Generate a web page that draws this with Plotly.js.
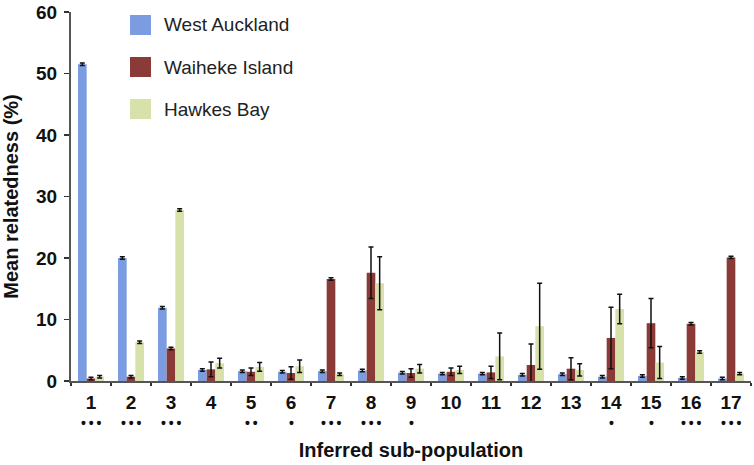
<!DOCTYPE html>
<html>
<head>
<meta charset="utf-8">
<script src="https://cdn.plot.ly/plotly-3.0.1.min.js"></script>
<style>html,body{margin:0;padding:0;background:#fff;}#chart{width:754px;height:465px;}</style>
</head>
<body>
<div id="chart"></div>
<script>
const categories = ["1","2","3","4","5","6","7","8","9","10","11","12","13","14","15","16","17"];
const significance = ["•••","•••","•••","","••","•","•••","•••","•","","","","","•","•","•••","•••"];
const seriesNames = ["West Auckland","Waiheke Island","Hawkes Bay"];
const seriesColors = ["#7b9ce0","#8b3b37","#d7e1aa"];
const westAuckland = [51.5,20.0,11.9,1.8,1.6,1.5,1.6,1.7,1.35,1.2,1.2,1.0,1.1,0.7,0.8,0.5,0.4];
const westAucklandErr = [0.2,0.2,0.2,0.2,0.2,0.2,0.2,0.2,0.2,0.2,0.2,0.2,0.2,0.2,0.2,0.2,0.2];
const waihekeIsland = [0.4,0.7,5.3,1.9,1.5,1.3,16.6,17.6,1.3,1.5,1.4,2.6,2.0,7.0,9.4,9.3,20.1];
const waihekeIslandErr = [0.2,0.2,0.2,1.2,0.6,1.0,0.2,4.2,0.7,0.6,1.0,3.4,1.8,5.0,4.0,0.2,0.2];
const hawkesBay = [0.7,6.3,27.8,2.9,2.3,2.4,1.1,15.9,2.0,1.8,4.0,8.9,1.8,11.7,3.0,4.7,1.2];
const hawkesBayErr = [0.2,0.2,0.2,0.8,0.7,1.0,0.2,4.3,0.7,0.6,3.8,7.0,1.0,2.4,2.6,0.2,0.2];

const values = [westAuckland, waihekeIsland, hawkesBay];
const errs = [westAucklandErr, waihekeIslandErr, hawkesBayErr];
const FONT = "Liberation Sans, Arial, Helvetica, sans-serif";

const traces = values.map((v, i) => ({
  type: "bar",
  name: seriesNames[i],
  x: categories,
  y: v,
  marker: {color: seriesColors[i], line: {width: 0}},
  error_y: {type: "data", array: errs[i], visible: true, color: "#111", thickness: 1.5, width: 2.5},
  showlegend: false
}));

const annotations = [];
categories.forEach((c, i) => {
  if (significance[i]) annotations.push({
    x: i, xref: "x", y: -0.114, yref: "paper", text: "<b>" + significance[i].split("").join("\u2009") + "</b>",
    showarrow: false, font: {family: FONT, size: 14, color: "#111"}, xanchor: "center", yanchor: "middle"
  });
});

const shapes = [];
const legTop = [15, 57, 99];
const plotTop = 12, plotBottom = 381, plotLeft = 71, plotW = 680, plotH = plotBottom - plotTop;
seriesNames.forEach((n, i) => {
  shapes.push({type: "rect", xref: "paper", yref: "paper",
    x0: (130 - plotLeft) / plotW, x1: (151 - plotLeft) / plotW,
    y0: (plotBottom - legTop[i] - 20) / plotH, y1: (plotBottom - legTop[i]) / plotH,
    fillcolor: seriesColors[i], line: {width: 0}});
  annotations.push({x: (162 - plotLeft) / plotW, xref: "paper", y: (plotBottom - legTop[i] - 10) / plotH, yref: "paper",
    text: n, showarrow: false, xanchor: "left", yanchor: "middle", font: {family: FONT, size: 19, color: "#222"}});
});

const layout = {
  width: 754, height: 465,
  margin: {l: 71, r: 3, t: 12, b: 84},
  paper_bgcolor: "#fff", plot_bgcolor: "#fff",
  barmode: "group", bargap: 0.35, bargroupgap: 0,
  font: {family: FONT, color: "#111"},
  xaxis: {
    type: "category", range: [-0.5, 16.5], tickson: "boundaries", ticks: "outside", ticklen: 3, tickwidth: 1.5, tickcolor: "#333",
    showline: true, linecolor: "#555", linewidth: 2, showgrid: false, zeroline: false,
    ticklabelstandoff: 3,
    tickfont: {family: FONT, size: 19, color: "#111", weight: "bold"},
    title: {text: "<b>Inferred sub-population</b>", font: {family: FONT, size: 20, color: "#111"}, standoff: 31},
    automargin: false
  },
  yaxis: {
    range: [0, 60], tickvals: [0,10,20,30,40,50,60], ticks: "outside", ticklen: 5, tickwidth: 1.5, tickcolor: "#333",
    showline: true, linecolor: "#555", linewidth: 2, showgrid: false, zeroline: false,
    ticklabelstandoff: 3,
    tickfont: {family: FONT, size: 19, color: "#111", weight: "bold"},
    title: {text: "<b>Mean relatedness (%)</b>", font: {family: FONT, size: 20, color: "#111"}, standoff: 12},
    automargin: false
  },
  shapes: shapes,
  annotations: annotations
};

Plotly.newPlot("chart", traces, layout, {displayModeBar: false, staticPlot: true});
</script>
</body>
</html>
